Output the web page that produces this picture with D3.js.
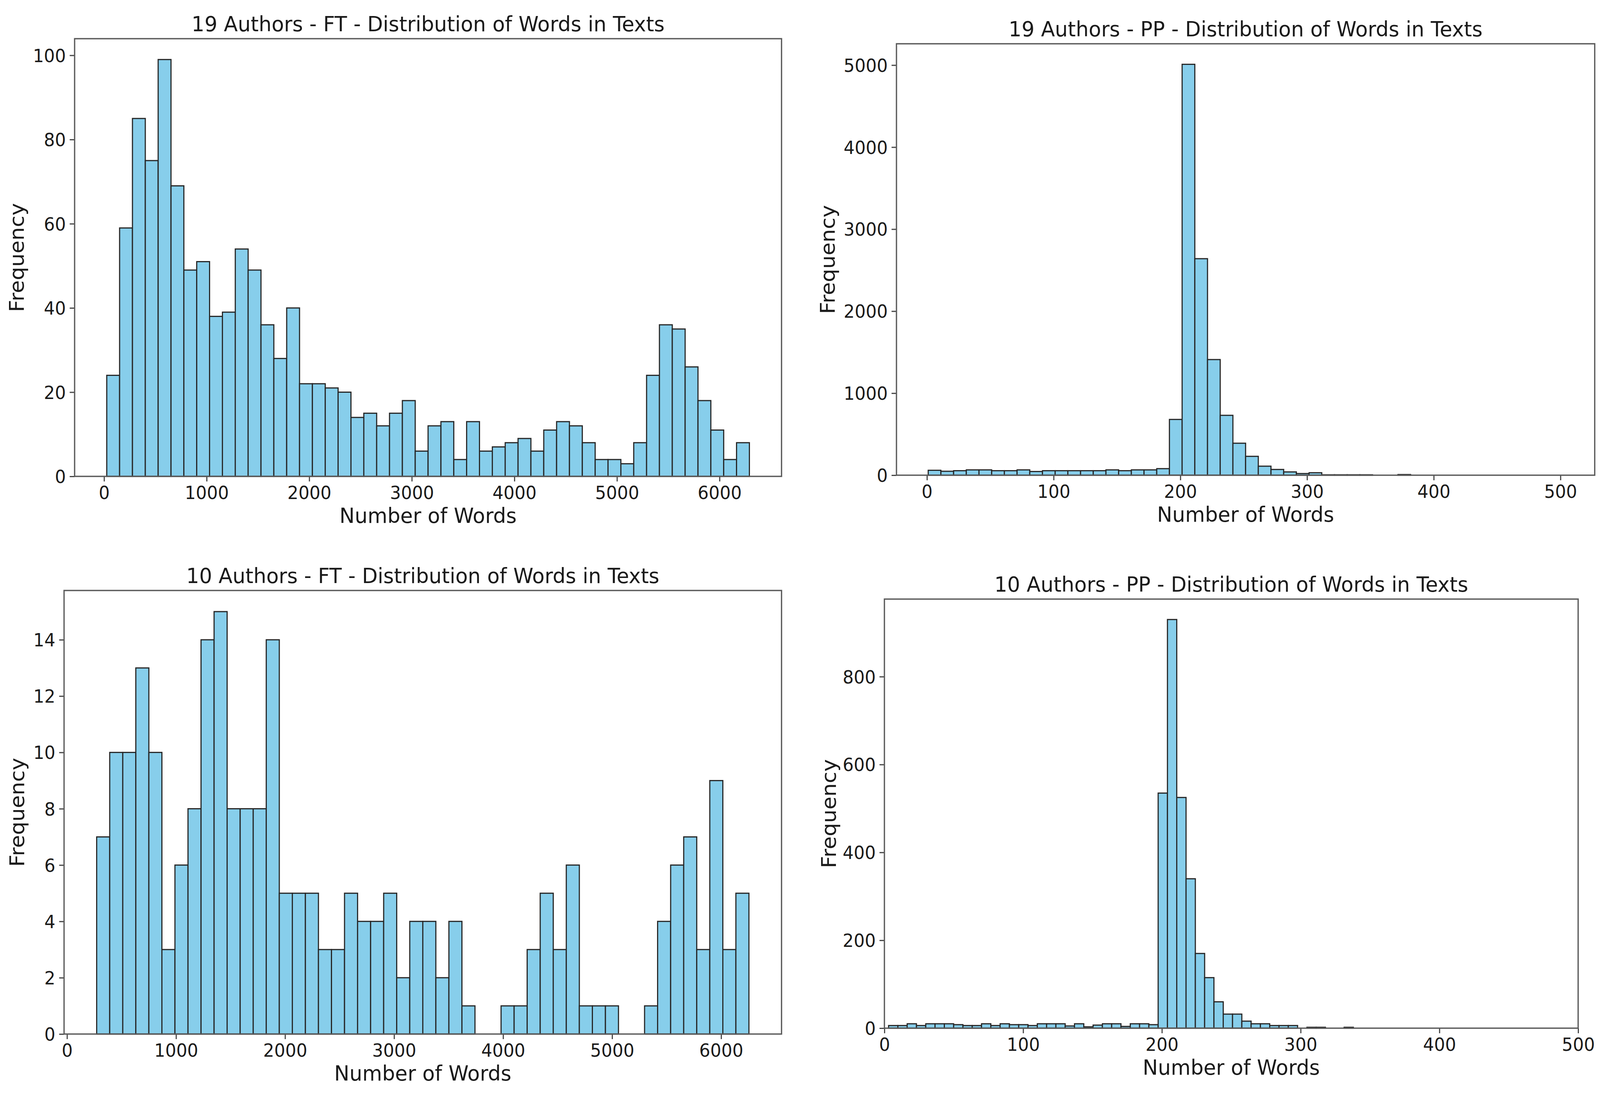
<!DOCTYPE html>
<html>
<head>
<meta charset="utf-8">
<script src="https://cdn.jsdelivr.net/npm/d3@7"></script>
<style>
  html, body { margin: 0; padding: 0; width: 100%; height: 100%; overflow: hidden; background: #fff; }
  #chart { width: 100vw; height: 100vh; }
  svg { display: block; background: #fff; font-family: 'DejaVu Sans', sans-serif; }
</style>
</head>
<body>
<div id="chart"></div>
<script>
// Histogram counts, 50 equal bins per panel
const ft19Counts = [24, 59, 85, 75, 99, 69, 49, 51, 38, 39, 54, 49, 36, 28, 40, 22, 22, 21, 20, 14,
  15, 12, 15, 18, 6, 12, 13, 4, 13, 6, 7, 8, 9, 6, 11, 13, 12, 8, 4, 4,
  3, 8, 24, 36, 35, 26, 18, 11, 4, 8];
const ft19Range = [26, 6291];

const pp19Counts = [60, 48, 55, 65, 65, 55, 55, 65, 45, 55, 55, 55, 55, 55, 65, 55, 65, 65, 80, 680,
  5010, 2640, 1410, 730, 390, 230, 110, 70, 40, 20, 30, 5, 5, 5, 5, 0, 0, 8, 0, 0,
  0, 0, 0, 0, 0, 0, 0, 0, 0, 0];
const pp19Range = [1, 502];

const ft10Counts = [7, 10, 10, 13, 10, 3, 6, 8, 14, 15, 8, 8, 8, 14, 5, 5, 5, 3, 3, 5,
  4, 4, 5, 2, 4, 4, 2, 4, 1, 0, 0, 1, 1, 3, 5, 3, 6, 1, 1, 1,
  0, 0, 1, 4, 6, 7, 3, 9, 3, 5];
const ft10Range = [272, 6255];

const pp10Counts = [6, 6, 10, 6, 10, 10, 10, 8, 6, 6, 10, 6, 10, 8, 8, 6, 10, 10, 10, 5,
  10, 3, 7, 10, 10, 4, 10, 10, 8, 535, 930, 525, 340, 170, 115, 60, 32, 32, 16, 10,
  10, 6, 6, 6, 0, 2, 2, 0, 0, 2];
const pp10Range = [3, 338];

const titles = [
  '19 Authors - FT - Distribution of Words in Texts',
  '19 Authors - PP - Distribution of Words in Texts',
  '10 Authors - FT - Distribution of Words in Texts',
  '10 Authors - PP - Distribution of Words in Texts'
];
const xLabel = 'Number of Words';
const yLabel = 'Frequency';

const ftXTicks = [0, 1000, 2000, 3000, 4000, 5000, 6000];
const ppXTicks = [0, 100, 200, 300, 400, 500];
const ft19YTicks = [0, 20, 40, 60, 80, 100];
const pp19YTicks = [0, 1000, 2000, 3000, 4000, 5000];
const ft10YTicks = [0, 2, 4, 6, 8, 10, 12, 14];
const pp10YTicks = [0, 200, 400, 600, 800];

// Fixed 4246x2802 drawing space, stretched to whatever the viewport is
const svg = d3.select('#chart').append('svg')
  .attr('width', '100%')
  .attr('height', '100%')
  .attr('viewBox', '0 0 4246 2802')
  .attr('preserveAspectRatio', 'none');

class Histogram {
  constructor(_config, _counts, _range) {
    this.config = {
      left: _config.left,
      right: _config.right,
      top: _config.top,
      bottom: _config.bottom,
      title: _config.title,
      xTicks: _config.xTicks,
      yTicks: _config.yTicks,
      xDomain: _config.xDomain,
      yLabelOffset: _config.yLabelOffset,
      fill: '#87ceeb',
      edge: '#262626',
      frame: '#5a5a5a',
      tickFont: 46,
      labelFont: 54
    };
    this.counts = _counts;
    this.range = _range;
    this.initVis();
  }

  initVis() {
    const vis = this;
    const c = vis.config;

    // Equal-width bin edges between min and max
    const [lo, hi] = vis.range;
    const binW = (hi - lo) / vis.counts.length;
    vis.bins = vis.counts.map((count, i) => ({ x0: lo + i * binW, x1: lo + (i + 1) * binW, count }));

    // matplotlib-style 5% margins
    const pad = (hi - lo) * 0.05;
    vis.xScale = d3.scaleLinear()
      .domain(c.xDomain || [lo - pad, hi + pad])
      .range([c.left, c.right]);
    vis.yScale = d3.scaleLinear()
      .domain([0, d3.max(vis.counts) * 1.05])
      .range([c.bottom, c.top]);

    vis.chart = svg.append('g');
    vis.renderVis();
  }

  renderVis() {
    const vis = this;
    const c = vis.config;

    vis.chart.selectAll('.bar')
        .data(vis.bins)
      .join('rect')
        .attr('class', 'bar')
        .attr('x', d => vis.xScale(d.x0))
        .attr('width', d => vis.xScale(d.x1) - vis.xScale(d.x0))
        .attr('y', d => vis.yScale(d.count))
        .attr('height', d => vis.yScale(0) - vis.yScale(d.count))
        .attr('fill', c.fill)
        .attr('stroke', c.edge)
        .attr('stroke-width', 3);

    // Axes
    const xAxis = d3.axisBottom(vis.xScale)
      .tickValues(c.xTicks)
      .tickFormat(d3.format('d'))
      .tickSize(13)
      .tickPadding(12);
    const yAxis = d3.axisLeft(vis.yScale)
      .tickValues(c.yTicks)
      .tickFormat(d3.format('d'))
      .tickSize(13)
      .tickPadding(10);

    const gx = vis.chart.append('g')
      .attr('transform', `translate(0,${c.bottom})`)
      .call(xAxis);
    const gy = vis.chart.append('g')
      .attr('transform', `translate(${c.left},0)`)
      .call(yAxis);

    [gx, gy].forEach(g => {
      g.select('.domain').remove();
      g.selectAll('.tick line').attr('stroke', '#444').attr('stroke-width', 3);
      g.selectAll('.tick text')
        .attr('fill', '#1a1a1a')
        .style('font-family', 'DejaVu Sans')
        .style('font-size', `${c.tickFont}px`);
    });
    gy.selectAll('.tick text').attr('dy', '0.36em');

    // Frame on top of bars
    vis.chart.append('rect')
      .attr('x', c.left)
      .attr('y', c.top)
      .attr('width', c.right - c.left)
      .attr('height', c.bottom - c.top)
      .attr('fill', 'none')
      .attr('stroke', c.frame)
      .attr('stroke-width', 3.4);

    // Title and axis labels
    vis.chart.append('text')
      .attr('x', (c.left + c.right) / 2)
      .attr('y', c.top - 19)
      .attr('text-anchor', 'middle')
      .attr('fill', '#1a1a1a')
      .style('font-size', `${c.labelFont}px`)
      .text(c.title);

    vis.chart.append('text')
      .attr('x', (c.left + c.right) / 2)
      .attr('y', c.bottom + 119)
      .attr('text-anchor', 'middle')
      .attr('fill', '#1a1a1a')
      .style('font-size', `${c.labelFont}px`)
      .text(xLabel);

    vis.chart.append('text')
      .attr('transform', `translate(${c.left - c.yLabelOffset},${(c.top + c.bottom) / 2}) rotate(-90)`)
      .attr('text-anchor', 'middle')
      .attr('fill', '#1a1a1a')
      .style('font-size', `${c.labelFont}px`)
      .text(yLabel);
  }
}

new Histogram({ left: 198, right: 2074, top: 99, bottom: 1219, title: titles[0],
  xTicks: ftXTicks, yTicks: ft19YTicks, yLabelOffset: 135 }, ft19Counts, ft19Range);

new Histogram({ left: 2379, right: 4232, top: 112, bottom: 1216, title: titles[1],
  xTicks: ppXTicks, yTicks: pp19YTicks, yLabelOffset: 164 }, pp19Counts, pp19Range);

new Histogram({ left: 170, right: 2074, top: 1511, bottom: 2646, title: titles[2],
  xTicks: ftXTicks, yTicks: ft10YTicks, yLabelOffset: 106 }, ft10Counts, ft10Range);

new Histogram({ left: 2347, right: 4188, top: 1533, bottom: 2631, title: titles[3],
  xTicks: ppXTicks, yTicks: pp10YTicks, xDomain: [0, 500], yLabelOffset: 129 }, pp10Counts, pp10Range);
</script>
</body>
</html>
